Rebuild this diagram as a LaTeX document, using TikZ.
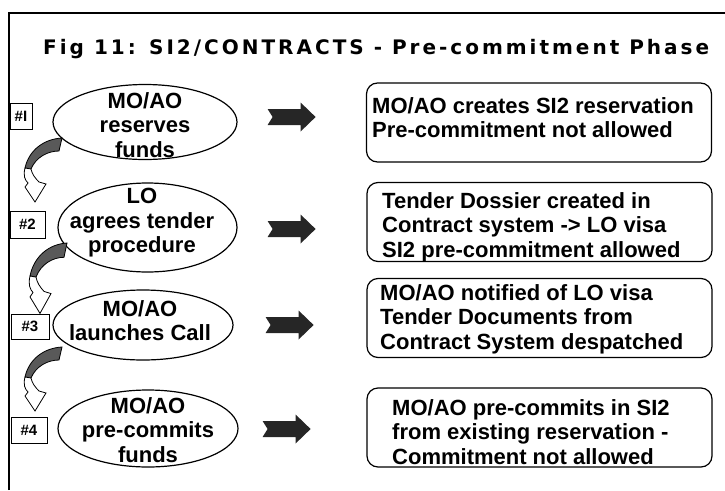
\documentclass[tikz,border=0pt]{standalone}
\usepackage{fontspec}
\setmainfont{Liberation Sans}
\newfontfamily\titlefont[LetterSpace=15]{DejaVu Sans}
\usetikzlibrary{calc,shapes.geometric}

\begin{document}
\begin{tikzpicture}[x=1pt,y=-1pt,font=\bfseries\fontsize{22}{24.5}\selectfont,
  stage/.style={draw,ellipse,line width=1.2pt,fill=white,inner sep=0pt},
  info/.style={draw,rounded corners=11pt,line width=1.2pt,fill=white,
    minimum width=345pt,minimum height=79pt,inner sep=0pt},
  numbox/.style={draw,line width=1pt,fill=white,inner sep=0pt,
    font=\bfseries\fontsize{15}{15}\selectfont},
  ctxt/.style={align=center,inner sep=0pt},
  ltxt/.style={align=left,inner sep=0pt,anchor=west},
  pics/fatarrow/.style={code={
    \fill[black!85] (0,-8) -- (33,-8) -- (33,-14.5) -- (48,0) -- (33,14.5)
      -- (33,8) -- (0,8) -- (5,0) -- cycle;}},
  pics/bendarrow/.style={code={
    \filldraw[fill=black!65,line width=0.8pt] (0,0) .. controls (-18,1) and (-33,12) .. (-37,30)
      -- (-31,31) .. controls (-26,19) and (-14,13) .. (-3,13) -- cycle;
    \filldraw[fill=white,line width=0.8pt] (-37,30) .. controls (-39,38) and (-37,42) .. (-34,45)
      -- (-37,49) -- (-27,64) -- (-16,46) -- (-23,44)
      .. controls (-27,40) and (-30,36) .. (-31,31) -- cycle;}}]

\useasboundingbox (0,0) rectangle (725,490);

% frame and title
\draw[line width=2pt] (9,490) -- (9,12.5) -- (725,12.5);
\node[anchor=base west,inner sep=0pt,font=\titlefont\bfseries\fontsize{20}{20}\selectfont]
  (title) at (43,54) {Fig 11: SI2/CONTRACTS - Pre-commitment Phase};

% stages
\node[stage,minimum width=184pt,minimum height=75pt] (s1) at (145,122) {};
\node[stage,minimum width=179pt,minimum height=89pt] (s2) at (147.5,227.5) {};
\node[stage,minimum width=180pt,minimum height=70pt] (s3) at (143,325) {};
\node[stage,minimum width=180pt,minimum height=77pt] (s4) at (148,428.5) {};

\node[ctxt] (s1t) at (145,125) {MO/AO\\reserves\\funds};
\node[ctxt] (s2t) at (142,223) {LO\\agrees tender\\procedure};
\node[ctxt] (s3t) at (140,320.5) {MO/AO\\launches Call};
\node[ctxt] (s4t) at (148,430) {MO/AO\\pre-commits\\funds};

% numbers
\node[numbox,minimum width=22pt,minimum height=26pt] (n1) at (21,116) {\#I};
\node[numbox,minimum width=35pt,minimum height=27pt] (n2) at (27.5,224.5) {\#2};
\node[numbox,minimum width=38pt,minimum height=25pt] (n3) at (30,326.5) {\#3};
\node[numbox,minimum width=36pt,minimum height=26pt] (n4) at (29,430) {\#4};

% bends from one stage to the next
\pic at (62,138) {bendarrow};
\pic[yscale=1.1] at (67,243) {bendarrow};
\pic at (62,347) {bendarrow};

% arrows to the results
\pic at ($(s1.east)+(30,-5)$) {fatarrow};
\pic at ($(s2.east)+(30,1.5)$) {fatarrow};
\pic at ($(s3.east)+(32,0)$) {fatarrow};
\pic at ($(s4.east)+(24,0.5)$) {fatarrow};

% results
\node[info] (b1) at (539,122.5) {};
\node[info] (b2) at (539.5,222) {};
\node[info] (b3) at (539.5,318) {};
\node[info] (b4) at (539.5,427.5) {};

\node[ltxt] (b1t) at (372,117.5) {MO/AO creates SI2 reservation\\Pre-commitment not allowed};
\node[ltxt] (b2t) at (382,227) {Tender Dossier created in\\Contract system -> LO visa\\SI2 pre-commitment allowed};
\node[ltxt] (b3t) at (380,319) {MO/AO notified of LO visa\\Tender Documents from\\Contract System despatched};
\node[ltxt] (b4t) at (392,432) {MO/AO pre-commits in SI2\\from existing reservation -\\Commitment not allowed};

\end{tikzpicture}
\end{document}
